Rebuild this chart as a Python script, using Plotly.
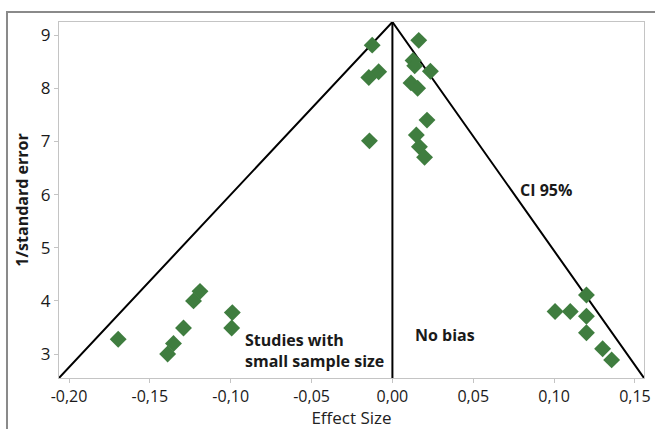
import plotly.graph_objects as go

# Study effect sizes and precision (1/standard error)
effect_size = [-0.0125, 0.0163, -0.0085, -0.0146, 0.0128, 0.0138, 0.0235, 0.0115, 0.0156,
               0.0214, -0.0142, 0.0148, 0.0167, 0.0199,
               -0.1696, -0.139, -0.1354, -0.1292, -0.123, -0.119, -0.099, -0.0994,
               0.120, 0.1006, 0.110, 0.120, 0.120, 0.130, 0.1356]
precision = [8.81, 8.9, 8.31, 8.2, 8.52, 8.42, 8.32, 8.1, 8.0,
             7.4, 7.01, 7.12, 6.9, 6.7,
             3.28, 3.0, 3.2, 3.49, 4.0, 4.18, 3.78, 3.49,
             4.11, 3.8, 3.8, 3.71, 3.4, 3.1, 2.89]

# Funnel (CI 95%) lines and no-bias line
funnel_x = [-0.2062, 0.0, 0.1556]
funnel_y = [2.55, 9.245, 2.55]
nobias_x = [0.0, 0.0]
nobias_y = [2.55, 9.245]

x_ticks = [-0.20, -0.15, -0.10, -0.05, 0.00, 0.05, 0.10, 0.15]
x_ticklabels = ["-0,20", "-0,15", "-0,10", "-0,05", "0,00", "0,05", "0,10", "0,15"]
y_ticks = [3, 4, 5, 6, 7, 8, 9]

FONT = "Open Sans, Noto Sans, sans-serif"
TXT = "#1a1a1a"

fig = go.Figure()
fig.add_trace(go.Scatter(x=funnel_x, y=funnel_y, mode="lines",
                         line=dict(color="black", width=2), hoverinfo="skip"))
fig.add_trace(go.Scatter(x=nobias_x, y=nobias_y, mode="lines",
                         line=dict(color="black", width=2), hoverinfo="skip"))
fig.add_trace(go.Scatter(x=effect_size, y=precision, mode="markers",
                         marker=dict(symbol="diamond", size=13, color="#3f7d3f",
                                     line=dict(width=0))))

fig.update_layout(
    width=655, height=429,
    margin=dict(l=59, r=11, t=22, b=51),
    paper_bgcolor="white", plot_bgcolor="white",
    showlegend=False,
    font=dict(family=FONT, size=16, color=TXT),
    xaxis=dict(range=[-0.2062, 0.1556], tickvals=x_ticks, ticktext=x_ticklabels,
               automargin=False, ticklabeloverflow="allow",
               showgrid=False, zeroline=False, showline=True, linecolor="#c4c4c4",
               linewidth=1, mirror=True, ticks="outside", ticklen=4, tickcolor="#c4c4c4",
               tickfont=dict(size=16, color=TXT),
               title=dict(text="Effect Size", font=dict(size=17, color="#222222"),
                          standoff=8)),
    yaxis=dict(range=[2.55, 9.245], tickvals=y_ticks, automargin=False,
               showgrid=False, zeroline=False, showline=True, linecolor="#c4c4c4",
               linewidth=1, mirror=True, ticks="outside", ticklen=4, tickcolor="#c4c4c4",
               tickfont=dict(size=17, color=TXT),
               title=dict(text="<b>1/standard error</b>", font=dict(size=16, color=TXT),
                          standoff=8)),
    shapes=[dict(type="rect", xref="paper", yref="paper",
                 x0=-0.0889, y0=-0.4, x1=1.2, y1=1.028,
                 line=dict(color="#8a8a8a", width=2), fillcolor="rgba(0,0,0,0)",
                 layer="below")],
    annotations=[
        dict(x=0.0778, y=6.08, xref="x", yref="y", text="<b>CI 95%</b>", showarrow=False,
             xanchor="left", yanchor="middle", font=dict(size=16, color=TXT)),
        dict(x=0.0128, y=3.35, xref="x", yref="y", text="<b>No bias</b>", showarrow=False,
             xanchor="left", yanchor="middle", font=dict(size=16, color=TXT)),
        dict(x=-0.0925, y=3.06, xref="x", yref="y",
             text="<b>Studies with<br>small sample size</b>", showarrow=False,
             xanchor="left", yanchor="middle", align="left",
             font=dict(size=16, color=TXT)),
    ],
)

fig.write_html("out.html", config={"displayModeBar": False},
               post_script="document.body.style.margin='0';"
                           "document.body.style.overflow='hidden';")
